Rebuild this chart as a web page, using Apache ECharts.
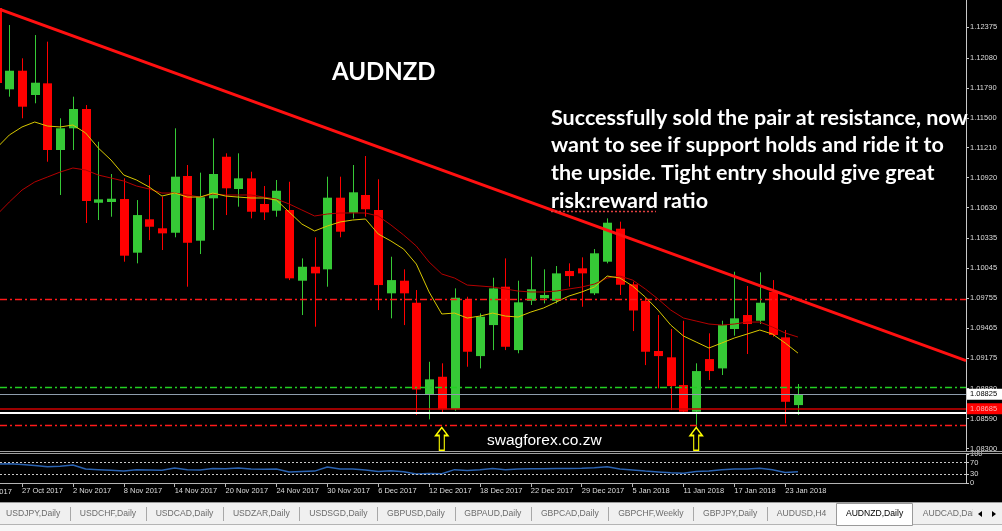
<!DOCTYPE html>
<html><head><meta charset="utf-8">
<script src="https://cdn.jsdelivr.net/npm/echarts@6/dist/echarts.min.js"></script>
<style>html,body{margin:0;padding:0;background:#000;overflow:hidden}#c{width:1002px;height:531px}</style>
</head><body><div id="c"></div>
<script>
// ---------------- DATA ----------------
const dates = ['25 Oct 2017','26 Oct 2017','27 Oct 2017','30 Oct 2017','31 Oct 2017','1 Nov 2017','2 Nov 2017','3 Nov 2017','6 Nov 2017','7 Nov 2017',
'8 Nov 2017','9 Nov 2017','10 Nov 2017','13 Nov 2017','14 Nov 2017','15 Nov 2017','16 Nov 2017','17 Nov 2017','20 Nov 2017','21 Nov 2017',
'22 Nov 2017','23 Nov 2017','24 Nov 2017','27 Nov 2017','28 Nov 2017','29 Nov 2017','30 Nov 2017','1 Dec 2017','4 Dec 2017','5 Dec 2017',
'6 Dec 2017','7 Dec 2017','8 Dec 2017','11 Dec 2017','12 Dec 2017','13 Dec 2017','14 Dec 2017','15 Dec 2017','18 Dec 2017','19 Dec 2017',
'20 Dec 2017','21 Dec 2017','22 Dec 2017','26 Dec 2017','27 Dec 2017','28 Dec 2017','29 Dec 2017','2 Jan 2018','3 Jan 2018','4 Jan 2018',
'5 Jan 2018','8 Jan 2018','9 Jan 2018','10 Jan 2018','11 Jan 2018','12 Jan 2018','15 Jan 2018','16 Jan 2018','17 Jan 2018','18 Jan 2018',
'19 Jan 2018','22 Jan 2018','23 Jan 2018','24 Jan 2018'];

const opens = [1.12562,1.11775,1.11955,1.11720,1.11833,1.11188,1.11398,1.11585,1.10678,1.10685,
1.10714,1.10195,1.10518,1.10431,1.10388,1.10937,1.10311,1.10721,1.11123,1.10811,
1.10914,1.10666,1.10601,1.10608,1.09924,1.10059,1.10034,1.10727,1.10582,1.10753,
1.10608,1.09802,1.09924,1.09711,1.08825,1.08995,1.08680,1.09737,1.09195,1.09495,
1.09866,1.09253,1.09730,1.09754,1.09730,1.10018,1.10044,1.09802,1.10108,1.10427,
1.09889,1.09730,1.09244,1.09183,1.08915,1.08657,1.09166,1.09076,1.09457,1.09592,
1.09537,1.09817,1.09376,1.08721];
const highs = [1.12591,1.12397,1.12075,1.12300,1.12236,1.11495,1.11704,1.11623,1.11268,1.10956,
1.10914,1.10704,1.10946,1.10736,1.11398,1.11043,1.10969,1.11301,1.11156,1.11156,
1.10978,1.10840,1.10898,1.10881,1.10140,1.10344,1.10930,1.10930,1.11043,1.11130,
1.10905,1.10156,1.10034,1.09834,1.09140,1.09125,1.09850,1.09769,1.09608,1.09953,
1.10140,1.09924,1.10156,1.10034,1.10066,1.10092,1.10150,1.10230,1.10527,1.10495,
1.09914,1.09756,1.09592,1.09457,1.09537,1.09125,1.09415,1.09537,1.10011,1.09873,
1.10005,1.09930,1.09447,1.08925];
const lows = [1.11768,1.11704,1.11495,1.11640,1.11075,1.10753,1.11188,1.10482,1.10511,1.10543,
1.10108,1.10092,1.10317,1.10221,1.10344,1.09866,1.10182,1.10414,1.10559,1.10640,
1.10527,1.10511,1.10543,1.09930,1.09592,1.09479,1.09866,1.10344,1.10527,1.10543,
1.09640,1.09560,1.09495,1.08625,1.08583,1.08641,1.08666,1.09092,1.09076,1.09253,
1.09253,1.09222,1.09689,1.09705,1.09705,1.09866,1.09672,1.09786,1.10092,1.09786,
1.09437,1.09108,1.08883,1.08673,1.08644,1.08496,1.08963,1.09012,1.09392,1.09215,
1.09505,1.09382,1.08544,1.08625];
const closes = [1.11836,1.11955,1.11607,1.11839,1.11188,1.11398,1.11585,1.10695,1.10711,1.10717,
1.10166,1.10559,1.10446,1.10382,1.10930,1.10291,1.10731,1.10956,1.10818,1.10914,
1.10591,1.10585,1.10794,1.09947,1.10059,1.09995,1.10727,1.10398,1.10779,1.10615,
1.09882,1.09930,1.09802,1.08873,1.08970,1.08680,1.09759,1.09237,1.09576,1.09850,
1.09285,1.09715,1.09841,1.09786,1.09995,1.09969,1.09995,1.10189,1.10485,1.09885,
1.09636,1.09237,1.09195,1.08905,1.08657,1.09050,1.09050,1.09495,1.09560,1.09505,
1.09711,1.09399,1.08753,1.08825];
const maFast = [1.11207,1.11333,1.11411,1.11459,1.11420,1.11411,1.11430,1.11353,1.11207,1.11091,
1.10946,1.10898,1.10830,1.10743,1.10772,1.10733,1.10733,1.10772,1.10743,1.10733,
1.10724,1.10724,1.10704,1.10588,1.10472,1.10405,1.10453,1.10492,1.10511,1.10521,
1.10376,1.10308,1.10230,1.10085,1.09815,1.09602,1.09611,1.09563,1.09582,1.09611,
1.09582,1.09573,1.09621,1.09660,1.09718,1.09776,1.09815,1.09863,1.09969,1.09950,
1.09873,1.09766,1.09640,1.09495,1.09389,1.09331,1.09273,1.09321,1.09370,1.09408,
1.09447,1.09408,1.09321,1.09224];
const maSlow = [1.10559,1.10685,1.10801,1.10879,1.10927,1.10975,1.11014,1.10995,1.10946,1.10917,
1.10888,1.10840,1.10811,1.10772,1.10772,1.10753,1.10733,1.10762,1.10753,1.10753,
1.10753,1.10733,1.10714,1.10666,1.10608,1.10550,1.10569,1.10579,1.10579,1.10579,
1.10550,1.10463,1.10366,1.10259,1.10105,1.09989,1.09950,1.09882,1.09873,1.09863,
1.09844,1.09824,1.09815,1.09815,1.09824,1.09844,1.09863,1.09892,1.09950,1.09969,
1.09930,1.09844,1.09747,1.09640,1.09563,1.09534,1.09505,1.09495,1.09505,1.09524,
1.09524,1.09476,1.09418,1.09379];
const rsi = [65,66,64,60,56,58,62,48,46,44, 41,46,45,44,52,46,45,50,49,52,
48,47,48,38,40,41,55,48,48,45, 40,42,39,31,33,32,46,43,46,50,
46,48,49,49,50,50,51,53,56,48, 45,41,38,35,34,40,41,46,48,48,
51,46,36,39];

const priceTicks = [1.12375,1.12080,1.11790,1.11500,1.11210,1.10920,1.10630,1.10335,1.10045,1.09755,1.09465,1.09175,1.08880,1.08590,1.08300];
const rsiTicks = [100,70,30,0];
const rsiLevels = [70,30];
const dateTicks = ['27 Oct 2017','2 Nov 2017','8 Nov 2017','14 Nov 2017','20 Nov 2017','24 Nov 2017','30 Nov 2017','6 Dec 2017',
'12 Dec 2017','18 Dec 2017','22 Dec 2017','29 Dec 2017','5 Jan 2018','11 Jan 2018','17 Jan 2018','23 Jan 2018'];
const prevDateLabel = '23 Oct 2017';

const bidPrice = 1.08825;
const redLevel = 1.08685;
const whiteLevel = 1.08645;
const resistanceLevel = 1.09740;
const greenLevel = 1.08895;
const lowerRedLevel = 1.08525;
const trendStart = [0.269, 1.12549];
const trendEnd = [76.21, 1.09151];
const arrowDates = ['13 Dec 2017','12 Jan 2018'];
const arrowPrice = 1.08393;

const title = 'AUDNZD';
const note = ['Successfully sold the pair at resistance, now','want to see if support holds and ride it to','the upside. Tight entry should give great','risk:reward ratio'];
const watermark = 'swagforex.co.zw';
const tabs = ['USDJPY,Daily','USDCHF,Daily','USDCAD,Daily','USDZAR,Daily','USDSGD,Daily','GBPUSD,Daily','GBPAUD,Daily','GBPCAD,Daily','GBPCHF,Weekly','GBPJPY,Daily','AUDUSD,H4','AUDNZD,Daily','AUDCAD,Daily'];
const activeTab = 'AUDNZD,Daily';

// ---------------- BUILD ----------------
const X_MIN = 0.269, X_MAX = 76.21;
const SANS = '"Liberation Sans", Arial, sans-serif';
const GREEN = '#36c936', RED = '#ff0000';
const candleData = dates.map((d, i) => [i, opens[i], closes[i], lows[i], highs[i]]);
const tickIdx = dateTicks.map(t => dates.indexOf(t));

function renderCandle(params, api) {
  const i = api.value(0), o = api.value(1), c = api.value(2), l = api.value(3), h = api.value(4);
  const pO = api.coord([i, o]), pC = api.coord([i, c]), pL = api.coord([i, l]), pH = api.coord([i, h]);
  const cx = Math.round(pO[0]);
  const col = c >= o ? GREEN : RED;
  const top = Math.min(pO[1], pC[1]), bot = Math.max(pO[1], pC[1]);
  return {type: 'group', children: [
    {type: 'line', shape: {x1: cx + 0.5, y1: pH[1], x2: cx + 0.5, y2: pL[1]}, style: {stroke: col, lineWidth: 1}},
    {type: 'rect', shape: {x: cx - 4, y: top, width: 9, height: Math.max(bot - top, 2)}, style: {fill: col}}
  ]};
}

const dashDot = [7, 3, 2, 3];
const hLine = (v, lineStyle, label) => {
  const a = {coord: [X_MIN, v], lineStyle: lineStyle};
  if (label) a.label = label;
  const b = {coord: [X_MAX, v]};
  if (label) b.label = label;
  return [a, b];
};
const boxLabel = (txt, bg, fg) => ({show: true, position: 'end', distance: 1, formatter: txt, color: fg, backgroundColor: bg,
  padding: [2, 6, 1, 3], fontSize: 7.5, fontFamily: SANS});

// tab bar graphics
const TAB_FONT = 8.6, TAB_GAP = 19.5;
const meas = document.createElement('canvas').getContext('2d');
meas.font = TAB_FONT + 'px ' + SANS;
const tabEls = [];
tabEls.push({type: 'rect', shape: {x: 0, y: 502, width: 1002, height: 29}, style: {fill: '#f0f0f0'}, silent: true});
tabEls.push({type: 'line', shape: {x1: 0, y1: 502.5, x2: 1002, y2: 502.5}, style: {stroke: '#9a9a9a', lineWidth: 1}, silent: true});
tabEls.push({type: 'line', shape: {x1: 0, y1: 524.5, x2: 1002, y2: 524.5}, style: {stroke: '#b4b4b4', lineWidth: 1}, silent: true});
tabEls.push({type: 'rect', shape: {x: 0, y: 525, width: 1002, height: 6}, style: {fill: '#f7f7f7'}, silent: true});
let tx = 6;
tabs.forEach((t, k) => {
  const w = meas.measureText(t).width;
  const isActive = t === activeTab;
  if (isActive) {
    tabEls.push({type: 'rect', shape: {x: Math.round(tx - 10) + 0.5, y: 503.5, width: Math.round(w + 19), height: 22}, style: {fill: '#ffffff', stroke: '#9a9a9a', lineWidth: 1}, silent: true});
  }
  tabEls.push({type: 'text', x: tx, y: 514, style: {text: t, fill: isActive ? '#000000' : '#6c6c6c', fontSize: TAB_FONT, fontFamily: SANS,
    verticalAlign: 'middle', textVerticalAlign: 'middle'}, silent: true});
  const next = tabs[k + 1];
  if (next && !isActive && next !== activeTab) {
    const sx = Math.round(tx + w + TAB_GAP / 2) + 0.5;
    tabEls.push({type: 'line', shape: {x1: sx, y1: 507, x2: sx, y2: 521}, style: {stroke: '#a8a8a8', lineWidth: 1}, silent: true});
  }
  tx += w + TAB_GAP;
});
tabEls.push({type: 'rect', shape: {x: 973, y: 503, width: 29, height: 21}, style: {fill: '#f0f0f0'}, silent: true});
tabEls.push({type: 'polygon', shape: {points: [[978, 514], [982, 511], [982, 517]]}, style: {fill: '#000'}, silent: true});
tabEls.push({type: 'polygon', shape: {points: [[996, 514], [992, 511], [992, 517]]}, style: {fill: '#000'}, silent: true});

const graphics = [
  {type: 'line', shape: {x1: 0, y1: 451.5, x2: 1002, y2: 451.5}, style: {stroke: '#a0a0a0', lineWidth: 1}, silent: true, z: 10},
  {type: 'line', shape: {x1: 0, y1: 453.5, x2: 1002, y2: 453.5}, style: {stroke: '#a0a0a0', lineWidth: 1}, silent: true, z: 10},
  {type: 'text', x: -29, y: 492, style: {text: prevDateLabel, fill: '#dcdcdc', fontSize: 7.5, fontFamily: SANS, verticalAlign: 'middle', textVerticalAlign: 'middle'}, silent: true},
  {type: 'text', x: 332, y: 72, style: {text: title, fill: '#ffffff', fontSize: 24, fontWeight: 'bold', fontFamily: 'Lato, "Open Sans", sans-serif',
    verticalAlign: 'middle', textVerticalAlign: 'middle'}, silent: true, z: 20},
  {type: 'text', x: 551, y: 104, style: {text: note.join('\n'), fill: '#ffffff', fontSize: 21.5, fontWeight: 'bold', lineHeight: 27.6,
    fontFamily: 'Lato, "Open Sans", sans-serif', verticalAlign: 'top', textVerticalAlign: 'top'}, silent: true, z: 20},
  {type: 'line', shape: {x1: 551, y1: 211.5, x2: 656, y2: 211.5}, style: {stroke: '#e04040', lineWidth: 1.5, lineDash: [2, 2]}, silent: true, z: 20},
  {type: 'text', x: 487, y: 441, style: {text: watermark, fill: '#ffffff', fontSize: 15.5, fontFamily: SANS,
    verticalAlign: 'middle', textVerticalAlign: 'middle'}, silent: true, z: 20}
].concat(tabEls);

const option = {
  backgroundColor: '#000000',
  animation: false,
  grid: [
    {left: 0, top: 0, width: 966, height: 451},
    {left: 0, top: 454, width: 966, height: 29}
  ],
  xAxis: [
    {gridIndex: 0, type: 'value', min: X_MIN, max: X_MAX, show: false},
    {gridIndex: 1, type: 'value', min: X_MIN, max: X_MAX,
      axisLine: {show: true, lineStyle: {color: '#b4b4b4', width: 1}},
      axisTick: {show: true, length: 4, customValues: tickIdx, lineStyle: {color: '#b4b4b4'}},
      axisLabel: {customValues: tickIdx, align: 'left', margin: 4, color: '#dcdcdc', fontSize: 7.5, fontFamily: SANS,
        formatter: v => dates[Math.round(v)]},
      splitLine: {show: false}}
  ],
  yAxis: [
    {gridIndex: 0, type: 'value', position: 'right', min: 1.08277, max: 1.12639,
      axisLine: {show: true, lineStyle: {color: '#c8c8c8'}},
      axisTick: {show: true, length: 3, customValues: priceTicks, lineStyle: {color: '#c8c8c8'}},
      axisLabel: {customValues: priceTicks, formatter: v => v.toFixed(5), color: '#dcdcdc', fontSize: 7.5, fontFamily: SANS, margin: 4},
      splitLine: {show: false}},
    {gridIndex: 1, type: 'value', position: 'right', min: 0, max: 100,
      axisLine: {show: true, lineStyle: {color: '#c8c8c8'}},
      axisTick: {show: true, length: 3, customValues: rsiTicks, lineStyle: {color: '#c8c8c8'}},
      axisLabel: {customValues: rsiTicks, color: '#dcdcdc', fontSize: 7.5, fontFamily: SANS, margin: 4, hideOverlap: false},
      splitLine: {show: false}}
  ],
  series: [
    {type: 'custom', name: 'AUDNZD', xAxisIndex: 0, yAxisIndex: 0, renderItem: renderCandle, clip: true,
      encode: {x: 0, y: [1, 2, 3, 4]}, data: candleData, z: 2, silent: true},
    {type: 'line', name: 'MA slow', xAxisIndex: 0, yAxisIndex: 0, data: maSlow.map((v, i) => [i, v]), symbol: 'none',
      lineStyle: {color: '#b40000', width: 1}, z: 3, silent: true, clip: true},
    {type: 'line', name: 'MA fast', xAxisIndex: 0, yAxisIndex: 0, data: maFast.map((v, i) => [i, v]), symbol: 'none',
      lineStyle: {color: '#d8c800', width: 1}, z: 4, silent: true, clip: true,
      markLine: {silent: true, symbol: ['none', 'none'], animation: false, label: {show: false}, z: 5,
        data: [
          hLine(resistanceLevel, {color: '#ff1a1a', width: 1.3, type: dashDot, opacity: 1}),
          hLine(greenLevel, {color: '#22d022', width: 1.3, type: dashDot, opacity: 1}),
          hLine(lowerRedLevel, {color: '#ff1a1a', width: 1.3, type: dashDot, opacity: 1}),
          hLine(bidPrice, {color: '#8e9cac', width: 1, type: 'solid', opacity: 1}, boxLabel(bidPrice.toFixed(5), '#ffffff', '#000000')),
          hLine(redLevel, {color: '#d00000', width: 1.5, type: 'solid', opacity: 1}, boxLabel(redLevel.toFixed(5), '#ff0000', '#ffb0b0')),
          hLine(whiteLevel, {color: '#ffffff', width: 2, type: 'solid', opacity: 1}),
          [{coord: trendStart, lineStyle: {color: '#ff1010', width: 3, type: 'solid', opacity: 1}}, {coord: trendEnd}]
        ]},
      markPoint: {silent: true, animation: false,
        symbol: 'path://M6,0 L12,8 L8.5,8 L8.5,23 L3.5,23 L3.5,8 L0,8 Z', symbolSize: [12, 23], symbolKeepAspect: false,
        itemStyle: {color: 'rgba(0,0,0,0)', borderColor: '#ffff00', borderWidth: 1.5},
        label: {show: false},
        data: arrowDates.map(d => ({coord: [dates.indexOf(d), arrowPrice]}))}},
    {type: 'line', name: 'RSI', xAxisIndex: 1, yAxisIndex: 1, data: rsi.map((v, i) => [i, v]), symbol: 'none',
      lineStyle: {color: '#2a62b0', width: 1.5}, silent: true, clip: true,
      markLine: {silent: true, symbol: ['none', 'none'], animation: false, label: {show: false},
        data: rsiLevels.map(v => hLine(v, {color: '#c8c8c8', type: [2, 2], width: 1, opacity: 1}))}}
  ],
  graphic: graphics
};
const chart = echarts.init(document.getElementById('c'), null, {renderer: 'canvas', width: 1002, height: 531});
chart.setOption(option);
</script></body></html>
